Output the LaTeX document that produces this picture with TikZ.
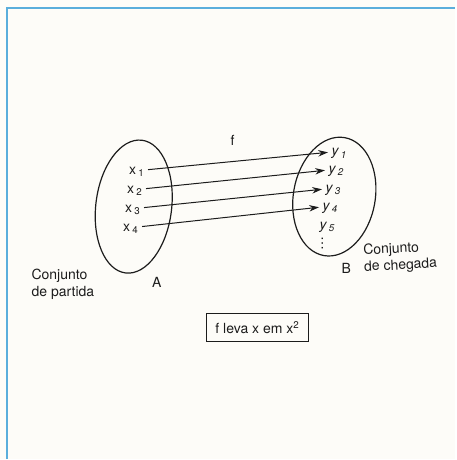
\documentclass[tikz,border=0pt]{standalone}
\usepackage{fontspec}
\setmainfont{TeX Gyre Heros}
\usepackage{tikz}
\usetikzlibrary{arrows.meta}
\definecolor{frameblue}{HTML}{5AAEDC}
\definecolor{paper}{HTML}{FDFCF8}
\definecolor{ink}{HTML}{1C1C1C}
\tikzset{lbl/.style={font=\fontsize{10.5}{12.5}\selectfont,text=ink,inner sep=1pt},
 elt/.style={lbl,inner sep=2.5pt},
 map/.style={-{Stealth[length=2.6mm,width=1.7mm]},line width=0.75pt,ink},
 setline/.style={ink,line width=0.9pt}}
\begin{document}
\begin{tikzpicture}[x=0.75pt,y=-0.75pt]
\fill[paper] (0,0) rectangle (456,460);
\draw[frameblue,line width=1.4pt] (7,460)--(7,8)--(456,8);
\draw[setline,rotate around={-7:(134,207)}] (134,207) ellipse [x radius=38,y radius=67];
\draw[setline,rotate around={-10:(335,197)}] (335,197) ellipse [x radius=41,y radius=60];
\node[elt] (x1) at (137,172) {x\,\textsubscript{1}}; \node[elt] (x2) at (135,191) {x\,\textsubscript{2}};
\node[elt] (x3) at (133,210) {x\,\textsubscript{3}}; \node[elt] (x4) at (131,229) {x\,\textsubscript{4}};
\node[elt] (y1) at (340,154) {\itshape y\,\textsubscript{1}}; \node[elt] (y2) at (337,172) {\itshape y\,\textsubscript{2}};
\node[elt] (y3) at (334,191) {\itshape y\,\textsubscript{3}}; \node[elt] (y4) at (331,209) {\itshape y\,\textsubscript{4}};
\node[elt] (y5) at (328,228) {\itshape y\,\textsubscript{5}};
\node[lbl] (more) at (323,244) {\rotatebox{90}{\ldots}};
\foreach \i in {1,...,4} \draw[map] ([yshift=1.5pt]x\i.east) -- ([yshift=1pt]y\i.west);
\node[lbl] (f) at (233,141) {f};
\node[lbl,align=left] (partida) at (63,285) {Conjunto\\de partida};
\node[lbl] (A) at (157,283) {A}; \node[lbl] (B) at (347,269) {B};
\node[lbl,align=left,rotate=3] (chegada) at (401,258) {Conjunto\\de chegada};
\node[lbl,draw=ink,semithick,minimum width=103*0.75pt,minimum height=28*0.75pt] (rule) at (258,328) {f leva x em x\textsuperscript{2}};
\end{tikzpicture}
\end{document}
